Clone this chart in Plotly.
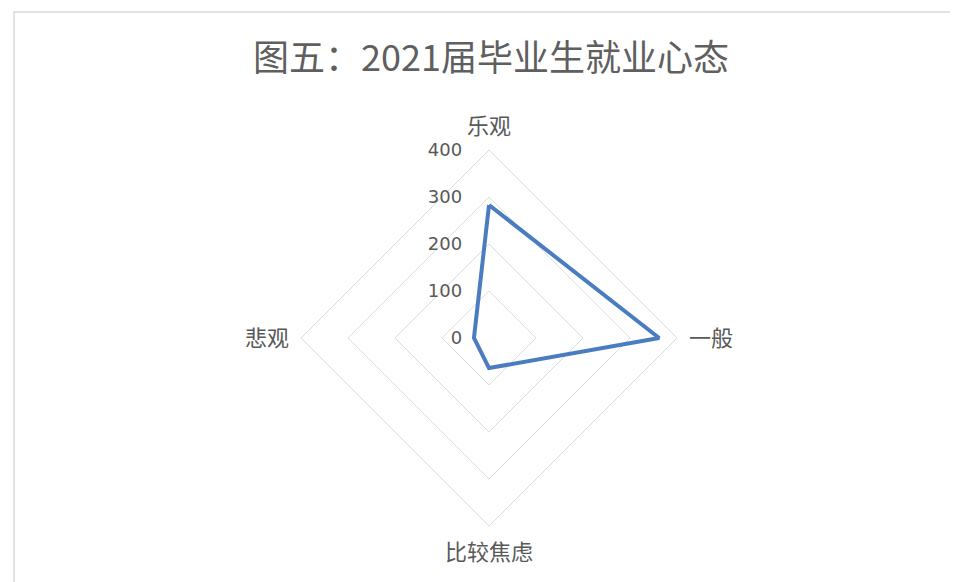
import plotly.graph_objects as go

categories = ["乐观", "一般", "比较焦虑", "悲观"]
values = [283, 362, 64, 32]
radial_ticks = [0, 100, 200, 300, 400]

# page body has an 8px margin; work in figure coordinates
OFF = 8
W, H = 958, 582
cx, cy, R = 489 - OFF, 338 - OFF, 188

fig = go.Figure()
fig.add_trace(go.Scatterpolar(
    r=values + values[:1],
    theta=categories + categories[:1],
    mode="lines",
    line=dict(color="#4A7CC0", width=4),
    hoverinfo="skip",
))

grid_col = "#DCDCDC"
fig.update_layout(
    width=W, height=H,
    margin=dict(l=0, r=0, t=0, b=0),
    paper_bgcolor="white",
    showlegend=False,
    title=dict(text="图五：2021届毕业生就业心态", x=(491 - OFF) / W, xanchor="center",
               y=1 - (58 - OFF) / H, yanchor="middle",
               font=dict(family="Noto Sans CJK SC", size=36, color="#5F5F5F")),
    polar=dict(
        domain=dict(x=[(cx - R) / W, (cx + R) / W],
                    y=[1 - (cy + R) / H, 1 - (cy - R) / H]),
        bgcolor="white",
        gridshape="linear",
        radialaxis=dict(range=[0, 400], tickvals=radial_ticks, angle=90,
                        side="counterclockwise", tickangle=90,
                        showline=False, ticks="outside", ticklen=20,
                        tickcolor="rgba(0,0,0,0)",
                        gridcolor=grid_col, gridwidth=1,
                        tickfont=dict(family="DejaVu Sans", size=18, color="#595959")),
        angularaxis=dict(rotation=90, direction="clockwise",
                         showgrid=False, showline=True, linecolor=grid_col, linewidth=1,
                         ticks="outside", ticklen=7, tickcolor="rgba(0,0,0,0)",
                         tickfont=dict(family="Noto Sans CJK SC", size=22, color="#595959")),
    ),
    shapes=[dict(type="rect", xref="paper", yref="paper",
                 x0=(14 - OFF) / W, x1=1.05, y0=-0.05, y1=1 - (12 - OFF) / H,
                 line=dict(color="#D9D9D9", width=1.5), fillcolor="rgba(0,0,0,0)")],
)

fig.write_html("out.html")
